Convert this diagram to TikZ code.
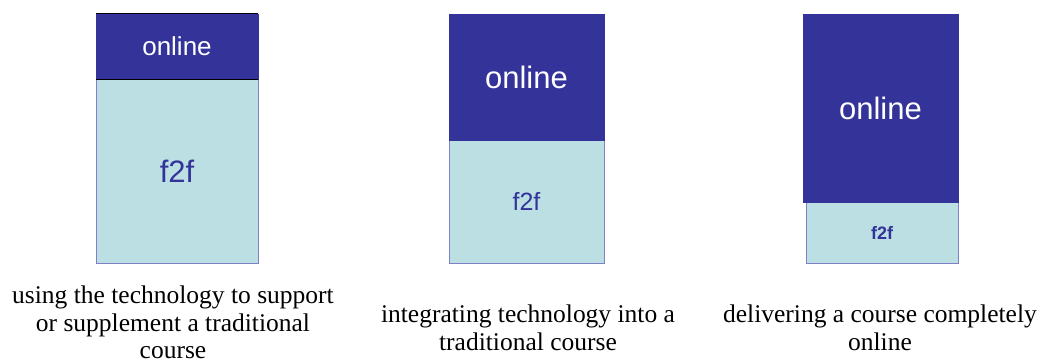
\documentclass[tikz,border=0pt]{standalone}
\usepackage{fontspec}
\setmainfont{Liberation Serif}
\newfontfamily\boxfont{Liberation Sans}
\definecolor{onlineblue}{HTML}{333399}
\definecolor{f2fcyan}{HTML}{BCDFE3}
\definecolor{edgeblue}{HTML}{8080C8}
\begin{document}
\begin{tikzpicture}[x=1pt,y=-1pt,
  onlinebox/.style={rectangle,fill=onlineblue,draw=onlineblue,line width=0.8pt,inner sep=0pt,text=white},
  f2fbox/.style={rectangle,fill=f2fcyan,draw=edgeblue,line width=0.8pt,inner sep=0pt,text=onlineblue},
  caption/.style={align=center,inner sep=0pt,font=\fontsize{25.5}{27.5}\selectfont}]
\useasboundingbox (0,0) rectangle (1047,363);
% column 1
\node[f2fbox,minimum width=162pt,minimum height=184pt,font=\boxfont\fontsize{31}{33}\selectfont] (f1) at (177,171) {f2f};
\node[onlinebox,minimum width=162pt,minimum height=65pt,font=\boxfont\fontsize{26}{28}\selectfont] (o1) at (177,46.5) {online};
\draw[black,line width=1.2pt] (o1.north west) -- (o1.north east);
\draw[black,line width=1.2pt] (o1.south west) -- (o1.south east);
% column 2
\node[f2fbox,minimum width=155pt,minimum height=123pt,font=\boxfont\fontsize{25}{27}\selectfont] (f2) at (526.5,201.5) {f2f};
\node[onlinebox,minimum width=155pt,minimum height=126pt,font=\boxfont\fontsize{31}{33}\selectfont] (o2) at (526.5,77) {online};
% column 3
\node[f2fbox,minimum width=152pt,minimum height=61pt,font=\boxfont\bfseries\fontsize{18}{20}\selectfont] (f3) at (882,232.5) {f2f};
\node[onlinebox,minimum width=155pt,minimum height=188pt,font=\boxfont\fontsize{31}{33}\selectfont] (o3) at (880.5,108) {online};
% captions
\node[caption,anchor=base] (c1) at (173,358.5) {using the technology to support\\or supplement a traditional\\course};
\node[caption,anchor=base] (c2) at (528,350) {integrating technology into a\\traditional course};
\node[caption,anchor=base] (c3) at (880,350) {delivering a course completely\\online};
\end{tikzpicture}
\end{document}
